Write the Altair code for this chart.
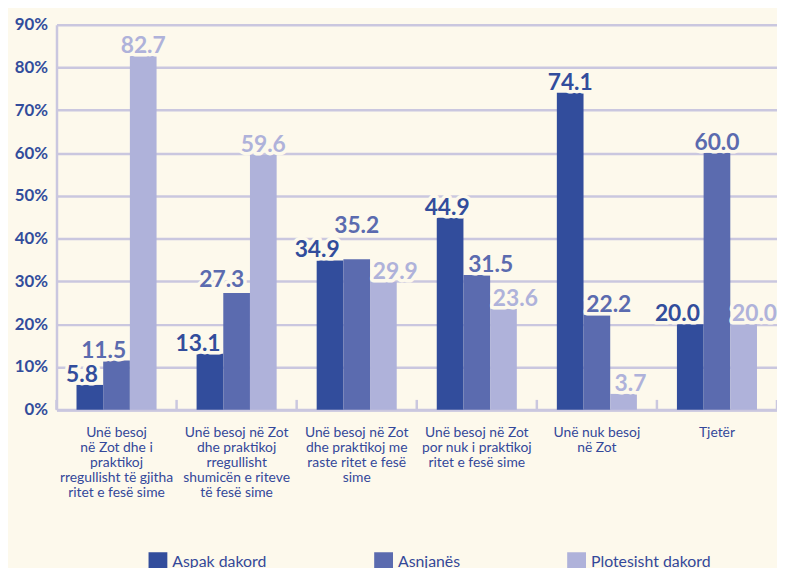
import altair as alt
import pandas as pd

categories = [
    "Unë besoj\nnë Zot dhe i\npraktikoj\nrregullisht të gjitha\nritet e fesë sime",
    "Unë besoj në Zot\ndhe praktikoj\nrregullisht\nshumicën e riteve\ntë fesë sime",
    "Unë besoj në Zot\ndhe praktikoj me\nraste ritet e fesë\nsime",
    "Unë besoj në Zot\npor nuk i praktikoj\nritet e fesë sime",
    "Unë nuk besoj\nnë Zot",
    "Tjetër",
]
series = ["Aspak dakord", "Asnjanës", "Plotesisht dakord"]
aspak_dakord = [5.8, 13.1, 34.9, 44.9, 74.1, 20.0]
asnjanes = [11.5, 27.3, 35.2, 31.5, 22.2, 60.0]
plotesisht_dakord = [82.7, 59.6, 29.9, 23.6, 3.7, 20.0]
y_ticks = [0, 10, 20, 30, 40, 50, 60, 70, 80, 90]

# styling: per-label nudges (pixels) to keep value labels from colliding
label_nudge_x = {
    "Aspak dakord": [-8, -12, -13, -3, 0, -13],
    "Asnjanës": [-13, -15, 0, 14, 12, 0],
    "Plotesisht dakord": [0, 0, 12, 12, 7, 11],
}
label_nudge_y = {
    "Aspak dakord": [0, 0, 0, 0, 0, 0],
    "Asnjanës": [0, -3, -23, 0, 0, 0],
    "Plotesisht dakord": [0, 0, 0, 0, 0, 0],
}

BG = "#FDF9EC"
GRID = "#CAC7DF"
COLORS = ["#324D9C", "#5B6BAF", "#AFB2DA"]
TEXT = "#34489A"

rows = []
for s, vals in zip(series, [aspak_dakord, asnjanes, plotesisht_dakord]):
    for i, (c, v) in enumerate(zip(categories, vals)):
        rows.append({"cat": c, "series": s, "value": v, "label": f"{v:.1f}",
                     "dx": label_nudge_x[s][i], "dy": label_nudge_y[s][i] - 3})
df = pd.DataFrame(rows)
cat_df = pd.DataFrame({"cat": categories})

x_enc = alt.X("cat:N", sort=categories, title=None,
              scale=alt.Scale(paddingInner=0, paddingOuter=0),
              axis=alt.Axis(labelExpr="split(datum.label, '\\n')", labelAngle=0,
                            labelAlign="center",
                            labelFont="Lato", labelFontSize=14, labelColor=TEXT,
                            labelLineHeight=15.2, labelBaseline="top", labelPadding=16,
                            labelLimit=300, labelOverlap=False, labelBound=False,
                            labelFlush=False, ticks=False,
                            domain=True, domainColor=GRID, domainWidth=3, grid=False))
y_enc = alt.Y("value:Q", title=None,
              scale=alt.Scale(domain=[0, 90], nice=False),
              axis=alt.Axis(values=y_ticks, labelExpr="datum.value + '%'",
                            labelFont="Lato", labelFontSize=17, labelFontWeight="bold",
                            labelColor="#324D9C", labelPadding=9, ticks=False,
                            domain=True, domainColor=GRID, domainWidth=2.5,
                            grid=True, gridColor=GRID, gridWidth=2.5))
xoff = alt.XOffset("series:N", sort=series,
                   scale=alt.Scale(paddingInner=0, paddingOuter=0.75))
color_scale = alt.Scale(domain=series, range=COLORS)

bars = alt.Chart(df).mark_bar().encode(
    x=x_enc, y=y_enc, xOffset=xoff,
    color=alt.Color("series:N", sort=series, scale=color_scale, title=None,
                    legend=alt.Legend(orient="none", legendX=93, legendY=533,
                                      direction="horizontal", symbolType="square",
                                      symbolSize=361, symbolStrokeWidth=0,
                                      labelFont="Lato", labelFontSize=16,
                                      labelColor=TEXT, labelOffset=5,
                                      columnPadding=108, padding=0)),
)

halo = alt.Chart(df).mark_text(
    font="Lato", fontSize=23, fontWeight="bold", baseline="alphabetic",
    stroke=BG, strokeWidth=7, strokeJoin="round",
    dx=alt.expr("datum.dx"), dy=alt.expr("datum.dy"),
).encode(x=alt.X("cat:N", sort=categories), y="value:Q", xOffset=xoff,
         text="label:N", color=alt.value(BG))

labels = alt.Chart(df).mark_text(
    font="Lato", fontSize=23, fontWeight="bold", baseline="alphabetic",
    dx=alt.expr("datum.dx"), dy=alt.expr("datum.dy"),
).encode(x=alt.X("cat:N", sort=categories), y="value:Q", xOffset=xoff,
         text="label:N",
         color=alt.Color("series:N", sort=series, scale=color_scale, legend=None))

ticks_a = alt.Chart(cat_df).mark_rule(color=GRID, strokeWidth=2.5).encode(
    x=alt.X("cat:N", sort=categories, bandPosition=0),
    y=alt.datum(0), y2=alt.datum(2.3))
ticks_b = alt.Chart(cat_df.tail(1)).mark_rule(color=GRID, strokeWidth=2.5).encode(
    x=alt.X("cat:N", sort=categories, bandPosition=1),
    y=alt.datum(0), y2=alt.datum(2.3))

chart = alt.layer(ticks_a, ticks_b, bars, halo, labels).properties(
    width=728, height=389,
    autosize=alt.AutoSizeParams(type="none"),
    padding={"left": 49, "top": 14, "right": 0, "bottom": 157},
    background=BG,
).configure_view(stroke=None)

chart.save("out.html", embed_options={"renderer": "svg", "actions": False})
